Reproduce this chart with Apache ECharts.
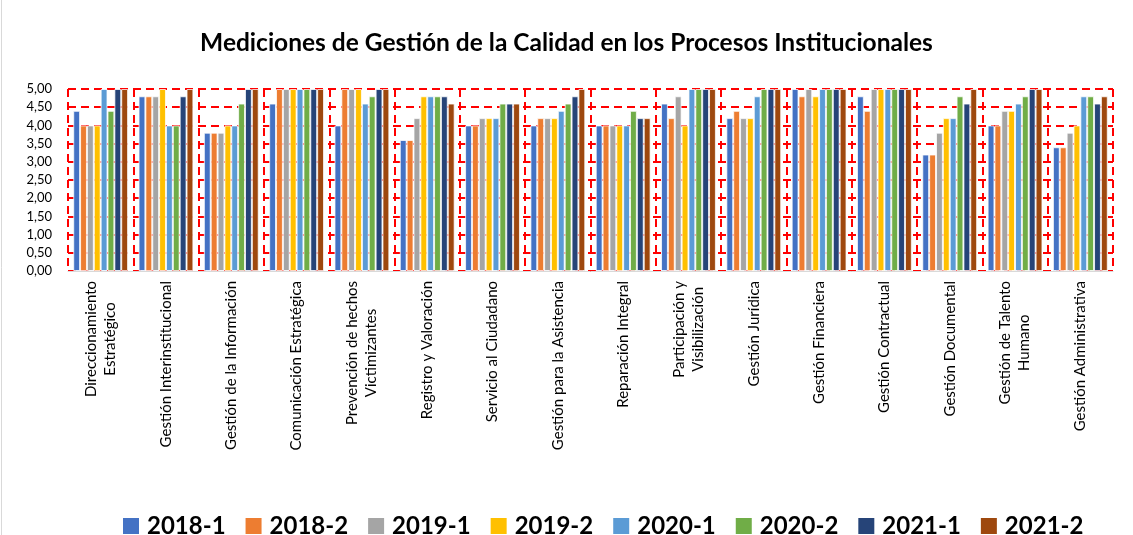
<!DOCTYPE html>
<html>
<head>
<meta charset="utf-8">
<script src="https://cdn.jsdelivr.net/npm/echarts@6/dist/echarts.min.js"></script>
<style>
html,body{margin:0;padding:0;background:#fff;}
#chart{width:1133px;height:535px;}
</style>
</head>
<body>
<div id="chart"></div>
<script>
var title = 'Mediciones de Gestión de la Calidad en los Procesos Institucionales';
var categories = [
  'Direccionamiento\nEstratégico',
  'Gestión Interinstitucional',
  'Gestión de la Información',
  'Comunicación Estratégica',
  'Prevención de hechos\nVictimizantes',
  'Registro y Valoración',
  'Servicio al Ciudadano',
  'Gestión para la Asistencia',
  'Reparación Integral',
  'Participación y\nVisibilización',
  'Gestión Jurídica',
  'Gestión Financiera',
  'Gestión Contractual',
  'Gestión Documental',
  'Gestión de Talento\nHumano',
  'Gestión Administrativa'
];
var seriesNames = ['2018-1','2018-2','2019-1','2019-2','2020-1','2020-2','2021-1','2021-2'];
var colors = ['#4472C4','#ED7D31','#A5A5A5','#FFC000','#5B9BD5','#70AD47','#264478','#9E480E'];
var s2018_1 = [4.4,4.8,3.8,4.6,4.0,3.6,4.0,4.0,4.0,4.6,4.2,5.0,4.8,3.2,4.0,3.4];
var s2018_2 = [4.0,4.8,3.8,5.0,5.0,3.6,4.0,4.2,4.0,4.2,4.4,4.8,4.4,3.2,4.0,3.4];
var s2019_1 = [4.0,4.8,3.8,5.0,5.0,4.2,4.2,4.2,4.0,4.8,4.2,5.0,5.0,3.8,4.4,3.8];
var s2019_2 = [4.0,5.0,4.0,5.0,5.0,4.8,4.2,4.2,4.0,4.0,4.2,4.8,5.0,4.2,4.4,4.0];
var s2020_1 = [5.0,4.0,4.0,5.0,4.6,4.8,4.2,4.4,4.0,5.0,4.8,5.0,5.0,4.2,4.6,4.8];
var s2020_2 = [4.4,4.0,4.6,5.0,4.8,4.8,4.6,4.6,4.4,5.0,5.0,5.0,5.0,4.8,4.8,4.8];
var s2021_1 = [5.0,4.8,5.0,5.0,5.0,4.8,4.6,4.8,4.2,5.0,5.0,5.0,5.0,4.6,5.0,4.6];
var s2021_2 = [5.0,5.0,5.0,5.0,5.0,4.6,4.6,5.0,4.2,5.0,5.0,5.0,5.0,5.0,5.0,4.8];
var allData = [s2018_1,s2018_2,s2019_1,s2019_2,s2020_1,s2020_2,s2021_1,s2021_2];

var chart = echarts.init(document.getElementById('chart'), null, {renderer:'canvas'});
var series = seriesNames.map(function(n,i){
  return {
    name:n, type:'bar', data:allData[i],
    barGap:'0%', barCategoryGap:'16%',
    itemStyle:{color:colors[i], borderColor:'rgba(255,255,255,0.75)', borderWidth:1}
  };
});
chart.setOption({
  animation:false,
  backgroundColor:'#fff',
  textStyle:{fontFamily:'Lato'},
  title:{
    text:title, left:'center', top:26,
    textStyle:{fontFamily:'Lato', fontWeight:'bold', fontSize:24.5, color:'#000'}
  },
  legend:{
    data:seriesNames, left:118, top:509, itemWidth:16, itemHeight:16, itemGap:20,
    icon:'rect', itemStyle:{borderWidth:0},
    textStyle:{fontFamily:'Lato', fontWeight:'bold', fontSize:24, color:'#000', padding:[0,0,0,3]}
  },
  grid:{left:68, right:20, top:89, bottom:264, containLabel:false},
  xAxis:{
    type:'category', data:categories,
    axisLine:{show:true, lineStyle:{color:'#D9D9D9', width:1}},
    axisTick:{show:false},
    splitLine:{show:true, interval:0, lineStyle:{color:'#FF0000', width:2, type:[8,5]}},
    axisLabel:{
      interval:0, rotate:90, margin:10, color:'#000', fontFamily:'Lato', fontSize:15, lineHeight:19,
      formatter:function(v){ return v.split('\n').map(function(l){return '{c|'+l+'}';}).join('\n'); },
      rich:{c:{align:'center', fontFamily:'Lato', fontSize:15, color:'#000', lineHeight:19}}
    }
  },
  yAxis:{
    type:'value', min:0, max:5, interval:0.5,
    axisLine:{show:false}, axisTick:{show:false},
    splitLine:{show:true, lineStyle:{color:'#FF0000', width:2, type:[8,5]}},
    axisLabel:{margin:16, color:'#000', fontFamily:'Lato', fontSize:13,
      formatter:function(v){return v.toFixed(2).replace('.',',');}}
  },
  graphic:[{type:'line', shape:{x1:1.5,y1:0,x2:1.5,y2:535}, style:{stroke:'#D9D9D9', lineWidth:1}}],
  series:series
});
</script>
</body>
</html>
